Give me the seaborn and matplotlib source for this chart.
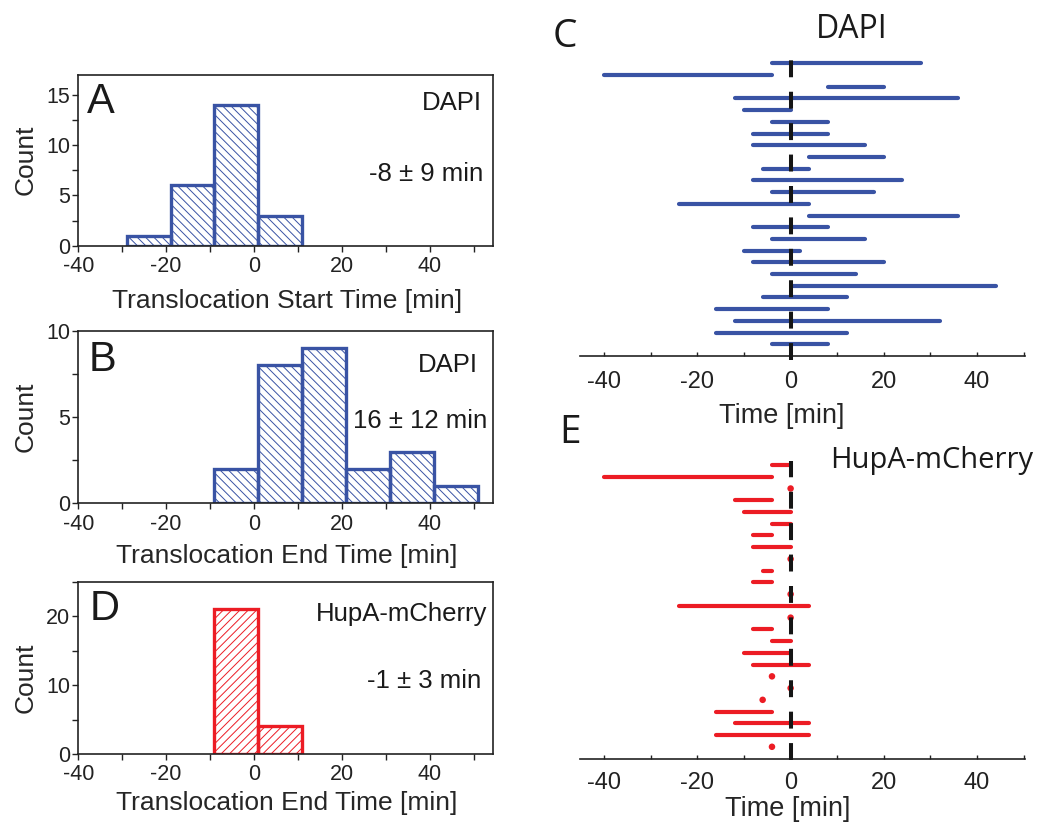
import numpy as np
import matplotlib
matplotlib.use("Agg")
import matplotlib.pyplot as plt
import seaborn as sns
from matplotlib.ticker import MultipleLocator

# ---------------- data ----------------
# Panel C: DAPI translocation start/end per cell (min), top row first
dapi_start = [-4, -40, 8, -12, -10, -4, -8, -8, 4, -6, -8, -4, -24, 4, -8, -4, -10, -8, -4, 0, -6, -16, -12, -16, -4]
dapi_end = [28, -4, 20, 36, 0, 8, 8, 16, 20, 4, 24, 18, 4, 36, 8, 16, 2, 20, 14, 44, 12, 8, 32, 12, 8]
# Panel E: HupA-mCherry translocation start/end per cell (min)
hupa_start = [-4, -40, 0, -12, -10, -4, -8, -8, 0, -6, -8, 0, -24, 0, -8, -4, -10, -8, -4, 0, -6, -16, -12, -16, -4]
hupa_end = [0, -4, 0, -4, 0, 0, -4, 0, 0, -4, -4, 0, 4, 0, -4, 0, 0, 4, -4, 0, -6, -4, 4, 4, -4]

bins_A = [-29, -19, -9, 1, 11]
bins_B = [-9, 1, 11, 21, 31, 41, 51]
bins_D = [-9, 1, 11]

x_major = [-40, -20, 0, 20, 40]
x_labels = ["-40", "-20", "0", "20", "40"]

BLUE = "#3953a4"
RED = "#ec1c24"

# ---------------- style ----------------
sns.set_theme(style="ticks")
plt.rcParams["font.family"] = ["Liberation Sans", "DejaVu Sans"]
plt.rcParams["hatch.linewidth"] = 0.7
plt.rcParams["axes.linewidth"] = 1.2
plt.rcParams["axes.edgecolor"] = "#222222"
plt.rcParams["text.color"] = "#1a1a1a"
plt.rcParams["xtick.color"] = "#222222"
plt.rcParams["ytick.color"] = "#222222"

W, H = 1050, 831
fig = plt.figure(figsize=(W / 100, H / 100), dpi=100)


def rect(l, t, r, b):
    return [l / W, 1 - b / H, (r - l) / W, (b - t) / H]


def fx(px):
    return px / W


def fy(py):
    return 1 - py / H


axA = fig.add_axes(rect(78.3, 75, 493.3, 245.7))
axB = fig.add_axes(rect(78.3, 331, 493.3, 503.3))
axD = fig.add_axes(rect(78.3, 581.7, 493.3, 754))
axC = fig.add_axes(rect(580, 49, 1025, 355.7))
axE = fig.add_axes(rect(580, 450, 1025, 759))

# ---------------- histograms ----------------
hist_specs = [
    (axA, dapi_start, bins_A, BLUE, "\\\\\\\\", 17, 5, 2.5, "Translocation Start Time [min]", 308, 160),
    (axB, dapi_end, bins_B, BLUE, "\\\\\\\\", 10, 5, 2.5, "Translocation End Time [min]", 563, 417),
    (axD, hupa_end, bins_D, RED, "////", 25, 10, 5, "Translocation End Time [min]", 810, 678),
]
for ax, data, bins, col, hatch, ytop, ymaj, ymin_, xlabel, xl_y, yl_y in hist_specs:
    sns.histplot(x=data, bins=bins, ax=ax, stat="count", element="bars",
                 facecolor="none", edgecolor=col, linewidth=2.4, hatch=hatch)
    ax.set_xlim(-40, 54.5)
    ax.set_ylim(0, ytop)
    ax.set_xticks(x_major)
    ax.set_xticklabels(x_labels)
    ax.xaxis.set_minor_locator(MultipleLocator(10))
    ax.yaxis.set_major_locator(MultipleLocator(ymaj))
    ax.yaxis.set_minor_locator(MultipleLocator(ymin_))
    ax.tick_params(axis="both", which="both", direction="out", length=4, width=1.0,
                   top=False, right=False, labelsize=15.5)
    ax.tick_params(axis="x", pad=3.5)
    ax.tick_params(axis="y", pad=2)
    for s in ax.spines.values():
        s.set_visible(True)
        s.set_linewidth(1.2)
    ax.set_xlabel(xlabel, fontsize=19)
    ax.xaxis.set_label_coords(fx(287), fy(xl_y), transform=fig.transFigure)
    ax.xaxis.label.set_va("baseline")
    ax.set_ylabel("Count", fontsize=19)
    ax.yaxis.set_label_coords(fx(26), fy(yl_y), transform=fig.transFigure)
    ax.yaxis.label.set_va("center")

# panel letters and annotations (histograms)
fig.text(fx(87), fy(113), "A", fontsize=30, ha="left", va="baseline")
fig.text(fx(482), fy(110), "DAPI", fontsize=18.5, ha="right", va="baseline")
fig.text(fx(483), fy(181), "-8 \u00b1 9 min", fontsize=18.5, ha="right", va="baseline")
fig.text(fx(89), fy(371), "B", fontsize=30, ha="left", va="baseline")
fig.text(fx(478), fy(371.5), "DAPI", fontsize=18.5, ha="right", va="baseline")
fig.text(fx(487), fy(428), "16 \u00b1 12 min", fontsize=18.5, ha="right", va="baseline")
fig.text(fx(90), fy(620), "D", fontsize=30, ha="left", va="baseline")
fig.text(fx(487), fy(621), "HupA-mCherry", fontsize=18.5, ha="right", va="baseline")
fig.text(fx(481), fy(688), "-1 \u00b1 3 min", fontsize=18.5, ha="right", va="baseline")

# ---------------- interval panels ----------------
def interval_panel(ax, starts, ends, col, ylim, dash_lo, dash_hi, tick_pad, xl_x, xl_y):
    starts = np.asarray(starts, float)
    ends = np.asarray(ends, float)
    rows = np.arange(len(starts))
    seg = starts != ends
    ax.hlines(rows[seg], starts[seg], ends[seg], colors=col, linewidth=3.0,
              capstyle="round", zorder=2)
    dots = ~seg
    if dots.any():
        sns.scatterplot(x=starts[dots], y=rows[dots], ax=ax, color=col, s=22,
                        edgecolor="none", zorder=2, legend=False)
    ax.axvline(0, ymin=dash_lo, ymax=dash_hi, color="#151515", linewidth=2.9,
               linestyle=(0, (4.2, 3.6)), clip_on=False, zorder=3)
    ax.set_xlim(-45.2, 50.3)
    ax.set_ylim(*ylim)
    ax.set_yticks([])
    ax.set_xticks(x_major)
    ax.set_xticklabels(x_labels)
    ax.xaxis.set_minor_locator(MultipleLocator(10))
    ax.tick_params(axis="x", which="both", direction="in", length=3, width=1.0,
                   labelsize=17, pad=tick_pad, top=False)
    for side in ["left", "right", "top"]:
        ax.spines[side].set_visible(False)
    ax.spines["bottom"].set_linewidth(1.2)
    ax.set_ylabel("")
    ax.set_xlabel("Time [min]", fontsize=19.5)
    ax.xaxis.set_label_coords(fx(xl_x), fy(xl_y), transform=fig.transFigure)
    ax.xaxis.label.set_va("baseline")


interval_panel(axC, dapi_start, dapi_end, BLUE, (24.97, -1.22), -0.014, 0.971, 11, 782, 423)
interval_panel(axE, hupa_start, hupa_end, RED, (25.04, -1.28), -0.003, 0.965, 9.5, 788, 816.5)

fig.text(fx(553), fy(46.7), "C", fontsize=28, ha="left", va="baseline", family=["Open Sans", "DejaVu Sans"])
fig.text(fx(852), fy(38.3), "DAPI", fontsize=23, ha="center", va="baseline", family=["Open Sans", "DejaVu Sans"])
fig.text(fx(559), fy(443), "E", fontsize=28, ha="left", va="baseline", family=["Open Sans", "DejaVu Sans"])
fig.text(fx(1033), fy(468), "HupA-mCherry", fontsize=21, ha="right", va="baseline", family=["Open Sans", "DejaVu Sans"])

fig.savefig("out.png", dpi=100)
